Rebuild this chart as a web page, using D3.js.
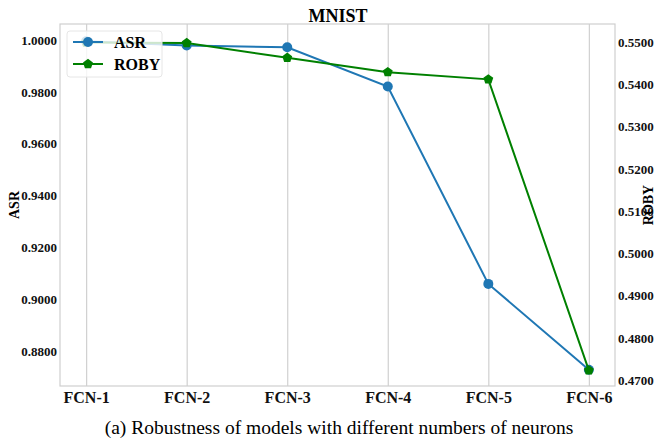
<!DOCTYPE html>
<html><head>
<meta charset="utf-8">
<script src="https://d3js.org/d3.v7.min.js"></script>
<style>
  body { margin: 0; background: #fff; }
  svg text { font-family: "Liberation Serif", "DejaVu Serif", "Times New Roman", Times, serif; }
  .tick text { font-weight: bold; }
  .grid line { stroke: #d0d0d0; stroke-width: 1.2; }
  .grid .domain { stroke: none; }
</style>
</head>
<body>
<svg id="chart" width="662" height="439"></svg>
<script>
// data
const models = ["FCN-1", "FCN-2", "FCN-3", "FCN-4", "FCN-5", "FCN-6"];
const asr  = [0.9995, 0.9979, 0.9972, 0.9821, 0.9059, 0.8728];
const roby = [0.5499, 0.5498, 0.5463, 0.5429, 0.5412, 0.4723];
const asrTicks  = [0.88, 0.90, 0.92, 0.94, 0.96, 0.98, 1.00];
const robyTicks = [0.47, 0.48, 0.49, 0.50, 0.51, 0.52, 0.53, 0.54, 0.55];

const svg = d3.select("svg#chart");
const margins = {top: 24, right: 47, bottom: 53, left: 60};
const chartWidth = 662 - margins.left - margins.right;
const chartHeight = 439 - margins.top - margins.bottom;
const serif = "'Liberation Serif', 'DejaVu Serif', 'Times New Roman', serif";

const plot = svg.append("g").attr("transform", "translate(" + margins.left + "," + margins.top + ")");

const xScale = d3.scalePoint().domain(models).range([0, chartWidth]).padding(0.26);
const asrScale = d3.scaleLinear().domain([0.8665, 1.0062]).range([chartHeight, 0]);
const robyScale = d3.scaleLinear().domain([0.4686, 0.5543]).range([chartHeight, 0]);

// vertical gridlines
plot.append("g").attr("class", "grid")
    .attr("transform", "translate(0," + chartHeight + ")")
    .call(d3.axisBottom(xScale).tickFormat("").tickSize(-chartHeight));

// frame
plot.append("rect").attr("width", chartWidth).attr("height", chartHeight)
    .attr("fill", "none").attr("stroke", "#cfcfcf").attr("stroke-width", 1.2);

// axes
const bottomAxis = plot.append("g")
    .attr("transform", "translate(0," + chartHeight + ")")
    .call(d3.axisBottom(xScale).tickSize(0).tickPadding(6))
    .attr("font-family", serif);
bottomAxis.selectAll("text").attr("font-size", 16).attr("fill", "#111");
bottomAxis.select(".domain").remove();

const leftAxis = plot.append("g")
    .call(d3.axisLeft(asrScale).tickValues(asrTicks).tickFormat(d3.format(".4f")).tickSize(0).tickPadding(3))
    .attr("font-family", serif);
leftAxis.selectAll("text").attr("font-size", 13).attr("fill", "#111");
leftAxis.select(".domain").remove();

const rightAxis = plot.append("g")
    .attr("transform", "translate(" + chartWidth + ",0)")
    .call(d3.axisRight(robyScale).tickValues(robyTicks).tickFormat(d3.format(".4f")).tickSize(0).tickPadding(3))
    .attr("font-family", serif);
rightAxis.selectAll("text").attr("font-size", 13).attr("fill", "#111");
rightAxis.select(".domain").remove();

// axis titles
svg.append("text").attr("transform", "translate(19," + (margins.top + chartHeight / 2) + ") rotate(-90)")
   .attr("text-anchor", "middle").attr("font-size", 14).attr("font-weight", "bold").text("ASR");
svg.append("text").attr("transform", "translate(653," + (margins.top + chartHeight / 2) + ") rotate(-90)")
   .attr("text-anchor", "middle").attr("font-size", 14).attr("font-weight", "bold").text("ROBY");

// title and caption
svg.append("text").attr("x", 338).attr("y", 22).attr("text-anchor", "middle")
   .attr("font-size", 18).attr("font-weight", "bold").text("MNIST");
svg.append("text").attr("x", 339).attr("y", 434).attr("text-anchor", "middle")
   .attr("font-size", 19.5).text("(a) Robustness of models with different numbers of neurons");

function pent(r) {
  let pts = [];
  for (let k = 0; k < 5; k++) {
    const a = -Math.PI / 2 + k * 2 * Math.PI / 5;
    pts.push([r * Math.cos(a), r * Math.sin(a)]);
  }
  return "M" + pts.map(p => p.join(",")).join("L") + "Z";
}

// ASR line
const asrLine = d3.line().x((d, i) => xScale(models[i])).y(d => asrScale(d));
plot.append("path").datum(asr).attr("d", asrLine)
    .attr("fill", "none").attr("stroke", "#1f77b4").attr("stroke-width", 2);
plot.selectAll(".asrdot").data(asr).join("circle")
    .attr("cx", (d, i) => xScale(models[i])).attr("cy", d => asrScale(d))
    .attr("r", 5).attr("fill", "#1f77b4");

// ROBY line
const robyLine = d3.line().x((d, i) => xScale(models[i])).y(d => robyScale(d));
plot.append("path").datum(roby).attr("d", robyLine)
    .attr("fill", "none").attr("stroke", "#008000").attr("stroke-width", 2);
plot.selectAll(".robydot").data(roby).join("path")
    .attr("transform", (d, i) => "translate(" + xScale(models[i]) + "," + robyScale(d) + ")")
    .attr("d", pent(5.2)).attr("fill", "#008000");

// legend
const legend = svg.append("g").attr("transform", "translate(67,31)");
legend.append("rect").attr("width", 95).attr("height", 46).attr("rx", 3)
    .attr("fill", "#fff").attr("fill-opacity", 0.8).attr("stroke", "#e6e6e6");
legend.append("line").attr("x1", 6).attr("x2", 36).attr("y1", 11).attr("y2", 11)
    .attr("stroke", "#1f77b4").attr("stroke-width", 2);
legend.append("circle").attr("cx", 21).attr("cy", 11).attr("r", 5).attr("fill", "#1f77b4");
legend.append("line").attr("x1", 6).attr("x2", 36).attr("y1", 33).attr("y2", 33)
    .attr("stroke", "#008000").attr("stroke-width", 2);
legend.append("path").attr("transform", "translate(21,33)").attr("d", pent(5.2)).attr("fill", "#008000");
legend.append("text").attr("x", 47).attr("y", 17).attr("font-size", 16).attr("font-weight", "bold").text("ASR");
legend.append("text").attr("x", 47).attr("y", 39).attr("font-size", 16).attr("font-weight", "bold").text("ROBY");
</script>
</body>
</html>
